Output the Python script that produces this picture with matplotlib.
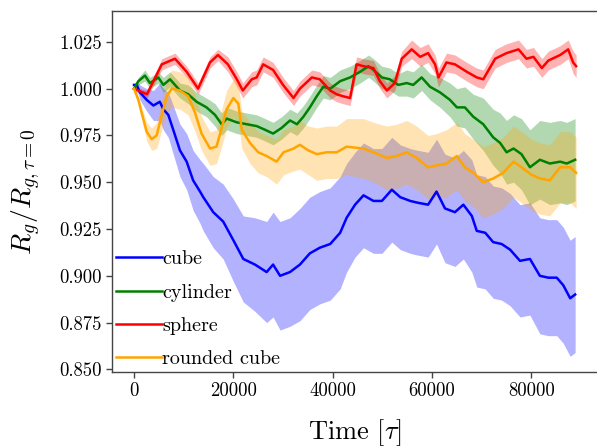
import matplotlib
matplotlib.use('Agg')
import matplotlib.pyplot as plt
import numpy as np

plt.rcParams['font.family'] = 'serif'
plt.rcParams['font.serif'] = ['cmr10']
plt.rcParams['mathtext.fontset'] = 'cm'
plt.rcParams['axes.unicode_minus'] = False

# values (tau, mean R_g ratio, half-width of band)
cube_t = [0, 540, 1200, 2550, 3900, 5200, 5900, 6900, 7900, 9250,
          10600, 11900, 13300, 13950, 15950, 17950, 20000, 22000, 24350, 26700,
          28000, 29400, 31400, 33400, 35400, 37400, 39500, 41500, 42800, 44500,
          46200, 48200, 49900, 51900, 53600, 55600, 57200, 59200, 60900, 62600,
          64600, 66300, 68000, 69000, 70700, 72300, 74000, 75700, 77700, 79700,
          81700, 83400, 85100, 86400, 87800, 88800]
cube_mean = [1.002, 1.002, 0.998, 0.994, 0.991, 0.993, 0.989, 0.986, 0.978, 0.967,
             0.961, 0.951, 0.945, 0.942, 0.934, 0.929, 0.919, 0.909, 0.906, 0.902,
             0.906, 0.900, 0.902, 0.906, 0.912, 0.915, 0.917, 0.923, 0.931, 0.938,
             0.943, 0.940, 0.940, 0.946, 0.942, 0.940, 0.939, 0.938, 0.945, 0.936,
             0.934, 0.938, 0.932, 0.924, 0.923, 0.918, 0.917, 0.914, 0.908, 0.909,
             0.900, 0.899, 0.899, 0.895, 0.888, 0.890]
cube_std = [0.000, 0.002, 0.004, 0.006, 0.008, 0.010, 0.011, 0.012, 0.013, 0.014,
            0.015, 0.016, 0.017, 0.018, 0.019, 0.020, 0.022, 0.023, 0.025, 0.027,
            0.028, 0.029, 0.029, 0.030, 0.030, 0.030, 0.030, 0.030, 0.029, 0.028,
            0.028, 0.028, 0.028, 0.028, 0.028, 0.028, 0.028, 0.028, 0.028, 0.029,
            0.029, 0.029, 0.030, 0.030, 0.030, 0.030, 0.030, 0.030, 0.030, 0.030,
            0.031, 0.031, 0.031, 0.031, 0.031, 0.031]

cyl_t = [0, 870, 2200, 3200, 4900, 5900, 7250, 9250, 10900, 12600,
         14600, 16300, 17650, 18650, 20700, 22700, 24700, 26400, 28000, 29700,
         31400, 32800, 34100, 35400, 36800, 38100, 39500, 41500, 43500, 45500,
         47200, 48200, 49900, 51500, 53200, 54900, 56200, 57900, 59600, 61600,
         63600, 65000, 66600, 68300, 70300, 72300, 73700, 75000, 76400, 78000,
         79700, 81700, 83700, 85800, 87100, 88800]
cyl_mean = [1.000, 1.004, 1.007, 1.003, 1.006, 1.002, 1.005, 0.999, 0.997, 0.993,
            0.990, 0.986, 0.981, 0.984, 0.982, 0.981, 0.980, 0.978, 0.976, 0.979,
            0.983, 0.981, 0.985, 0.990, 0.996, 1.001, 1.000, 1.004, 1.006, 1.009,
            1.012, 1.010, 1.006, 1.005, 1.002, 1.003, 1.002, 1.006, 1.001, 0.998,
            0.994, 0.990, 0.990, 0.985, 0.981, 0.974, 0.971, 0.966, 0.968, 0.965,
            0.958, 0.962, 0.960, 0.961, 0.960, 0.962]
cyl_std = [0.001, 0.002, 0.003, 0.003, 0.003, 0.004, 0.004, 0.004, 0.005, 0.005,
           0.005, 0.006, 0.006, 0.006, 0.006, 0.006, 0.006, 0.006, 0.006, 0.006,
           0.006, 0.006, 0.006, 0.006, 0.006, 0.006, 0.006, 0.006, 0.006, 0.006,
           0.006, 0.006, 0.006, 0.006, 0.006, 0.007, 0.007, 0.007, 0.007, 0.008,
           0.009, 0.010, 0.011, 0.012, 0.014, 0.015, 0.016, 0.017, 0.018, 0.019,
           0.020, 0.021, 0.022, 0.022, 0.022, 0.022]

sph_t = [0, 2600, 5600, 8250, 10600, 12900, 15300, 16900, 18900, 20700,
         21900, 23700, 24700, 26000, 28000, 30000, 32100, 33400, 35800, 37400,
         39500, 40800, 42000, 43500, 44800, 46200, 48200, 49500, 50900, 52500,
         53900, 55900, 57600, 59200, 60600, 61300, 62900, 64600, 67000, 69000,
         70300, 72700, 75000, 77400, 79000, 80400, 82100, 83400, 85800, 87400,
         88400, 89000]
sph_mean = [1.000, 0.997, 1.013, 1.016, 1.009, 1.000, 1.014, 1.018, 1.013, 1.005,
            0.999, 1.005, 1.006, 1.013, 1.010, 1.002, 0.995, 1.000, 1.006, 1.005,
            0.999, 0.997, 0.996, 0.995, 1.013, 1.012, 1.011, 1.004, 0.999, 1.003,
            1.016, 1.021, 1.017, 1.019, 1.013, 1.006, 1.014, 1.013, 1.009, 1.006,
            1.005, 1.016, 1.019, 1.021, 1.016, 1.017, 1.011, 1.015, 1.018, 1.021,
            1.014, 1.012]
sph_std = [0.001, 0.002, 0.003, 0.003, 0.003, 0.003, 0.003, 0.003, 0.004, 0.004,
           0.004, 0.004, 0.004, 0.004, 0.004, 0.004, 0.004, 0.004, 0.004, 0.004,
           0.004, 0.004, 0.004, 0.004, 0.004, 0.004, 0.004, 0.004, 0.004, 0.004,
           0.004, 0.005, 0.005, 0.005, 0.005, 0.005, 0.005, 0.005, 0.005, 0.005,
           0.005, 0.005, 0.005, 0.005, 0.005, 0.005, 0.005, 0.005, 0.005, 0.005,
           0.006, 0.006]

rc_t = [0, 870, 1550, 2550, 3550, 4550, 5600, 6600, 7600, 9250,
        10900, 12300, 13600, 15300, 16600, 17650, 18650, 20000, 21000, 21700,
        23350, 25000, 26700, 28700, 30100, 32100, 33400, 35100, 36800, 38800,
        40800, 42800, 46200, 48200, 50900, 52900, 54900, 56900, 59200, 60900,
        62900, 65000, 66600, 68300, 70300, 72300, 74300, 76400, 78000, 80000,
        81700, 83700, 85800, 87800, 89000]
rc_mean = [1.000, 0.994, 0.987, 0.977, 0.973, 0.975, 0.986, 0.996, 1.000, 0.999,
           0.996, 0.987, 0.976, 0.968, 0.969, 0.979, 0.989, 0.995, 0.992, 0.978,
           0.971, 0.966, 0.964, 0.961, 0.966, 0.968, 0.970, 0.967, 0.965, 0.966,
           0.966, 0.969, 0.968, 0.966, 0.963, 0.964, 0.966, 0.963, 0.958, 0.959,
           0.960, 0.964, 0.958, 0.955, 0.950, 0.952, 0.955, 0.961, 0.958, 0.954,
           0.952, 0.951, 0.958, 0.958, 0.955]
rc_std = [0.001, 0.002, 0.003, 0.005, 0.006, 0.007, 0.008, 0.009, 0.010, 0.010,
          0.010, 0.010, 0.009, 0.009, 0.009, 0.010, 0.010, 0.010, 0.010, 0.010,
          0.011, 0.011, 0.011, 0.012, 0.012, 0.012, 0.013, 0.013, 0.014, 0.014,
          0.014, 0.015, 0.016, 0.016, 0.017, 0.017, 0.017, 0.017, 0.017, 0.017,
          0.018, 0.018, 0.018, 0.018, 0.019, 0.019, 0.019, 0.019, 0.019, 0.019,
          0.019, 0.019, 0.019, 0.019, 0.019]

series = [
    ('cube', 'blue', cube_t, cube_mean, cube_std),
    ('cylinder', 'green', cyl_t, cyl_mean, cyl_std),
    ('sphere', 'red', sph_t, sph_mean, sph_std),
    ('rounded cube', 'orange', rc_t, rc_mean, rc_std),
]

fig = plt.figure(figsize=(5.97, 4.47), dpi=100)
ax = fig.add_axes([0.1876, 0.1678, 0.8124, 0.8076])

for label, color, t, m, s in series:
    t = np.array(t)
    m = np.array(m)
    s = np.array(s)
    ax.fill_between(t, m - s, m + s, color=color, alpha=0.3, lw=0)
    ax.plot(t, m, color=color, lw=1.8, label=label)

ax.set_xlim(-4430, 93200)
ax.set_ylim(0.8486, 1.0415)
ax.set_xticks([0, 20000, 40000, 60000, 80000])
ax.set_yticks([0.850, 0.875, 0.900, 0.925, 0.950, 0.975, 1.000, 1.025])
ax.set_yticklabels(['%.3f' % v for v in ax.get_yticks()])
ax.tick_params(labelsize=13.5, color='#444444', length=4, width=1)

for side in ['left', 'bottom', 'top']:
    ax.spines[side].set_color('#444444')
    ax.spines[side].set_linewidth(1)
ax.spines['right'].set_visible(False)

ax.set_xlabel(r'Time $[\tau]$', fontsize=19, labelpad=12)
ax.set_ylabel(r'$R_g/R_{g,\tau=0}$', fontsize=20, labelpad=12)

ax.legend(loc='lower left', frameon=False, fontsize=14.5, handlelength=2.3,
          handletextpad=0.0, borderaxespad=0.1, borderpad=0.1, labelspacing=0.75)

fig.savefig('out.png', dpi=100)
